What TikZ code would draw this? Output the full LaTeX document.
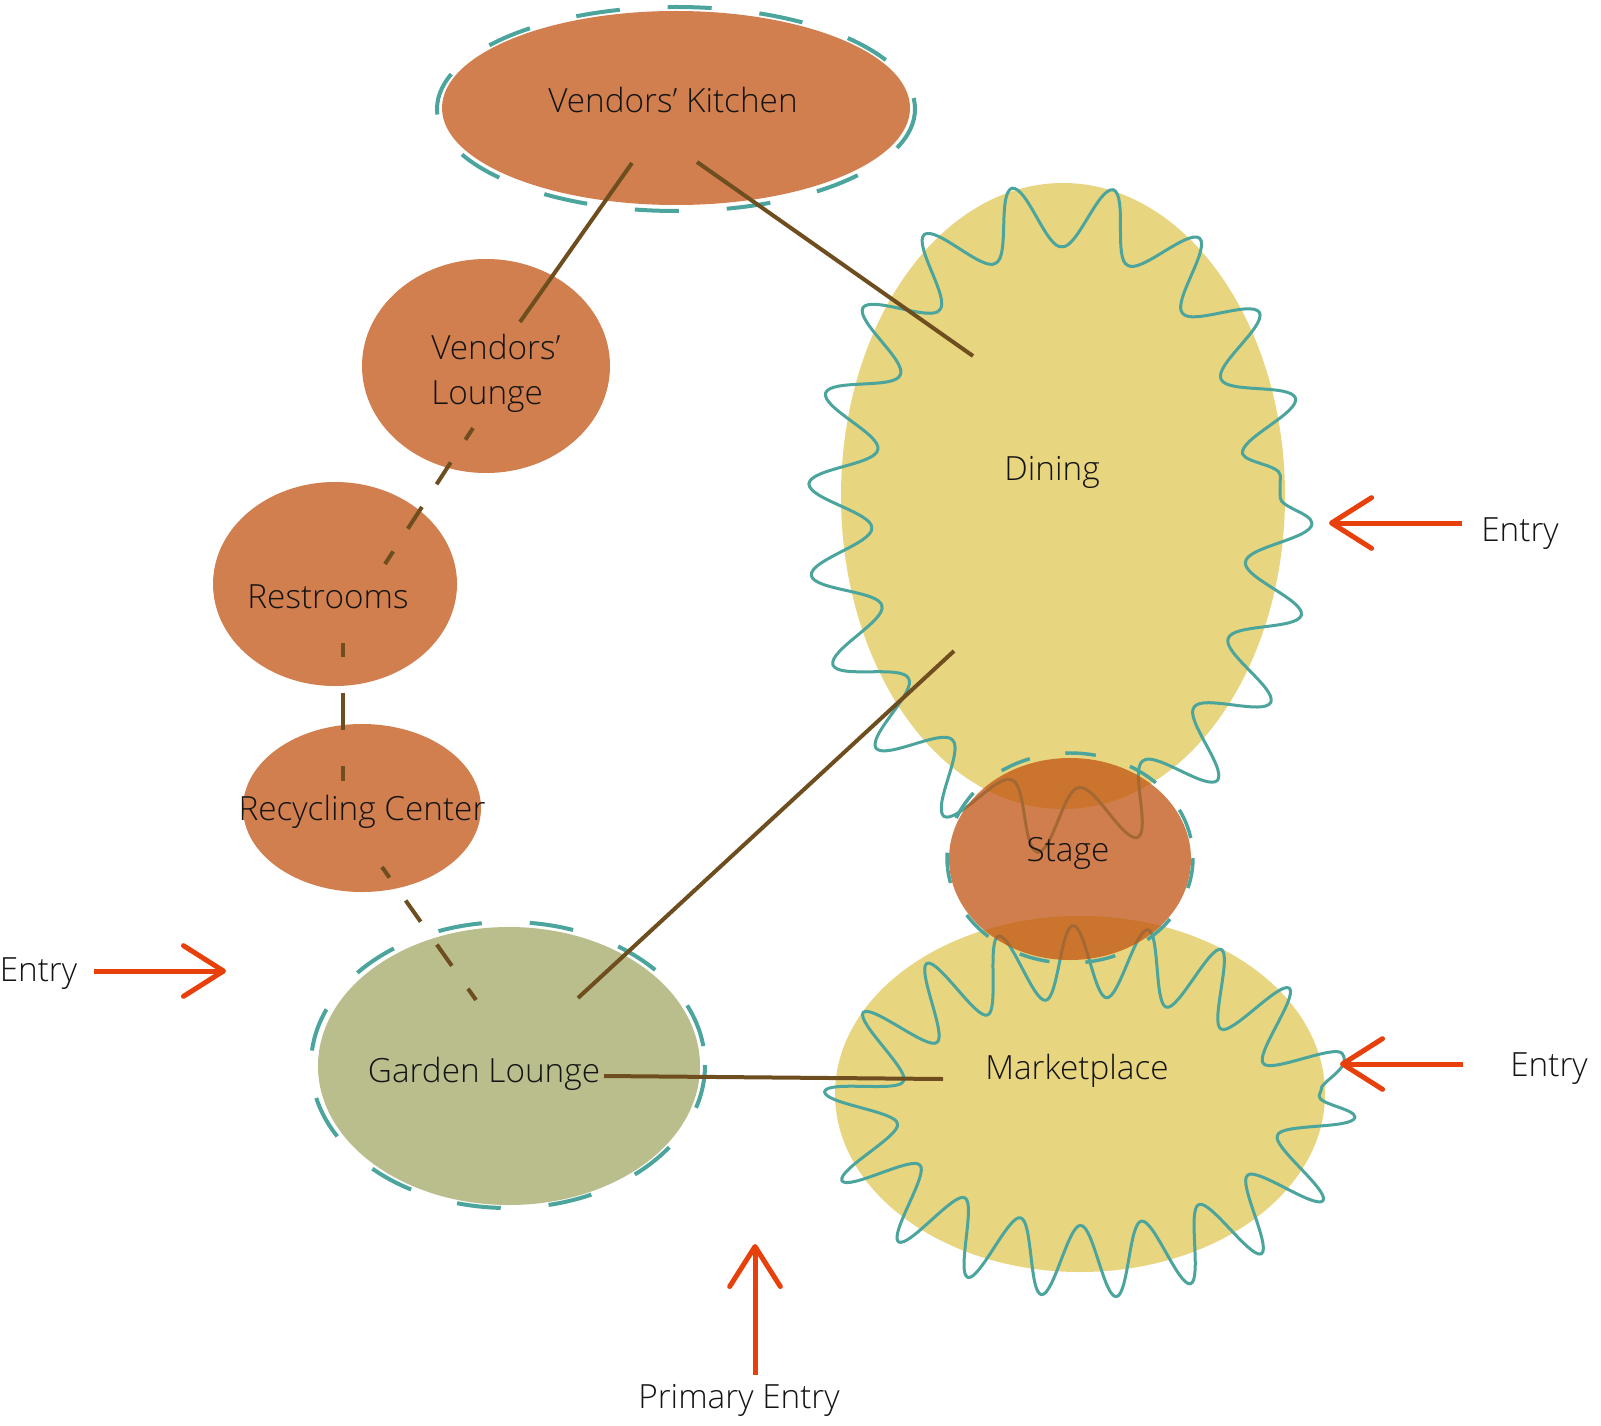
\documentclass[tikz,border=0pt]{standalone}
\usepackage{fontspec}
\setmainfont{Open Sans}[UprightFont={* Light}]
\usetikzlibrary{shapes.geometric,decorations.pathmorphing,arrows.meta}
\definecolor{clay}{RGB}{209,127,78}
\definecolor{sand}{RGB}{232,213,128}
\definecolor{sage}{RGB}{186,189,140}
\definecolor{tealc}{RGB}{75,165,157}
\definecolor{bark}{RGB}{110,78,30}
\definecolor{flame}{RGB}{232,64,10}
\definecolor{stagec}{RGB}{194,84,19}
\begin{document}
\begin{tikzpicture}[x=0.75pt,y=-0.75pt,
  zone/.style={ellipse, inner sep=0pt, outer sep=0pt, draw=none},
  lbl/.style={font=\fontsize{25}{33.75}\selectfont, text=black!92, anchor=base, inner sep=0pt},
  dashring/.style={draw=tealc, line width=3pt, dash pattern=on 33pt off 36pt},
  smallring/.style={draw=tealc, line width=2.6pt, dash pattern=on 23pt off 27pt},
  wavy/.style={draw=tealc, line width=2.25pt, line join=round, decorate},
  link/.style={draw=bark, line width=3pt},
  entry/.style={draw=flame, line width=3.75pt, -{Straight Barb[length=30pt,width=38pt,round]}}
]
\useasboundingbox (0,0) rectangle (1601,1426);
\fill[white] (0,0) rectangle (1601,1426);

% Dining
\node[zone, fill=sand, minimum width=333pt, minimum height=469.5pt] (din) at (1063,496) {};
\draw[wavy, decoration={snake, segment length=64pt, amplitude=24pt}] (1060,497) ellipse (220 and 303);
% Marketplace
\node[zone, fill=sand, minimum width=367.5pt, minimum height=267pt] (mk) at (1080,1094) {};
\draw[wavy, decoration={snake, segment length=51pt, amplitude=27pt}] (1090,1096) ellipse (229 and 150);
% Stage
\node[zone, fill=stagec, fill opacity=0.75, minimum width=181.5pt, minimum height=151.5pt] (st) at (1070,859) {};
\draw[smallring] (1070,858) ellipse (123 and 105);

% Vendors' Kitchen
\node[zone, fill=clay, minimum width=351pt, minimum height=145.5pt] (vk) at (676,108) {};
\draw[dashring] (676,109) ellipse (239 and 102);
% Vendors' Lounge
\node[zone, fill=clay, minimum width=186pt, minimum height=160.5pt] (vl) at (486,366) {};
% Restrooms
\node[zone, fill=clay, minimum width=183pt, minimum height=153pt] (rr) at (335,584) {};
% Recycling Center
\node[zone, fill=clay, minimum width=178.5pt, minimum height=126pt] (rc) at (362,808) {};
% Garden Lounge
\node[zone, fill=sage, minimum width=286.5pt, minimum height=208.5pt] (gl) at (509,1066) {};
\draw[dashring] (508,1065) ellipse (197 and 143);

% connector ends
\coordinate (vk-a) at (632,163); \coordinate (vl-a) at (520,322);
\coordinate (vk-b) at (697,162); \coordinate (din-a) at (973,356);
\coordinate (vl-b) at (473,428); \coordinate (rr-a) at (385,564);
\coordinate (rr-b) at (343,643); \coordinate (rc-a) at (343,781);
\coordinate (rc-b) at (382,867); \coordinate (gl-a) at (476,1000);
\coordinate (gl-b) at (578,998); \coordinate (din-b) at (954,651);
\coordinate (gl-c) at (604,1076); \coordinate (mk-a) at (943,1079);

\draw[link] (vk-a) -- (vl-a);
\draw[link] (vk-b) -- (din-a);
\draw[link, dash pattern=on 19.5pt off 20.25pt, dash phase=9pt] (vl-b) -- (rr-a);
\draw[link, dash pattern=on 27.75pt off 27pt, dash phase=17pt] (rr-b) -- (rc-a);
\draw[link, dash pattern=on 19.5pt off 21pt, dash phase=9.75pt] (rc-b) -- (gl-a);
\draw[link] (gl-b) -- (din-b);
\draw[link] (gl-c) -- (mk-a);

% labels
\node[lbl] (vk-t) at (673,113) {Vendors’ Kitchen};
\node[lbl, anchor=west, align=left] (vl-t) at (431,373) {Vendors’\\Lounge};
\node[lbl] (rr-t) at (328,608) {Restrooms};
\node[lbl] (rc-t) at (362,820) {Recycling Center};
\node[lbl] (din-t) at (1052,480) {Dining};
\node[lbl] (st-t) at (1068,861) {Stage};
\node[lbl] (gl-t) at (484,1082) {Garden Lounge};
\node[lbl] (mk-t) at (1077,1079) {Marketplace};

% entries
\node[lbl] (en1) at (1520,541) {Entry};
\node[lbl] (en2) at (38.5,981) {Entry};
\node[lbl] (en3) at (1549,1076) {Entry};
\node[lbl] (en4) at (739,1408) {Primary Entry};
\coordinate (en1-s) at (1462,523); \coordinate (en1-e) at (1329,523);
\coordinate (en2-s) at (94,971);   \coordinate (en2-e) at (226,971);
\coordinate (en3-s) at (1463,1064); \coordinate (en3-e) at (1340,1064);
\coordinate (en4-s) at (755,1375); \coordinate (en4-e) at (755,1244);
\draw[entry] (en1-s) -- (en1-e);
\draw[entry] (en2-s) -- (en2-e);
\draw[entry] (en3-s) -- (en3-e);
\draw[entry] (en4-s) -- (en4-e);
\end{tikzpicture}
\end{document}
